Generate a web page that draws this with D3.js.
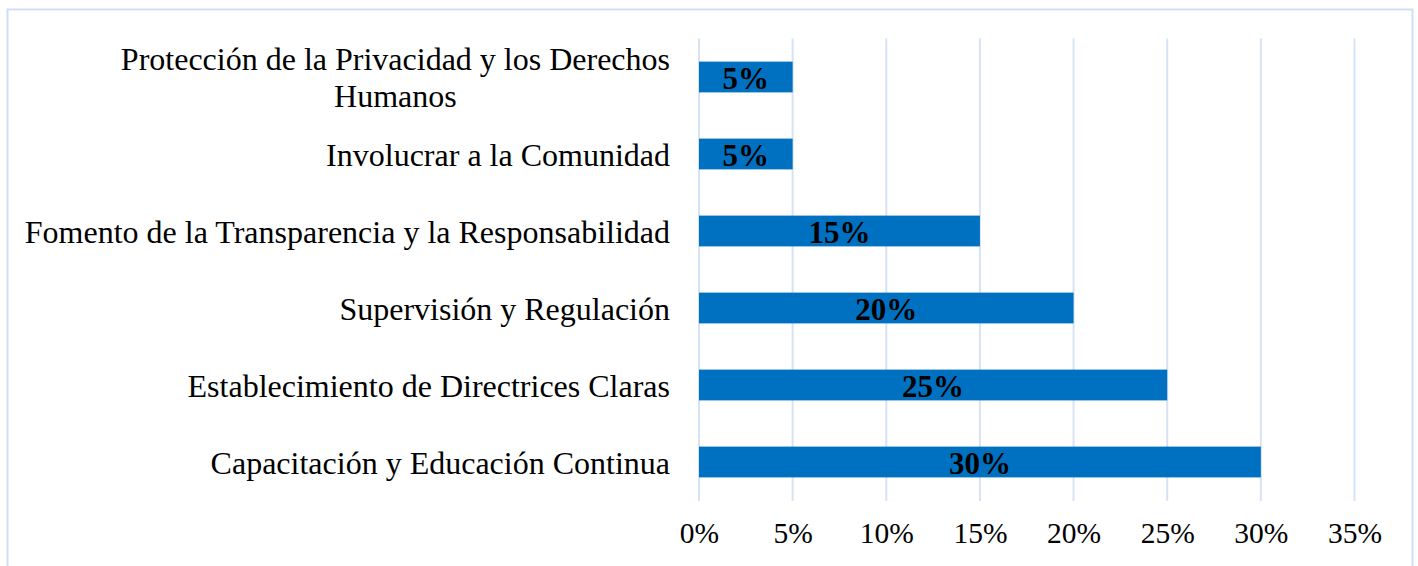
<!DOCTYPE html>
<html>
<head>
<meta charset="utf-8">
<script src="https://cdn.jsdelivr.net/npm/d3@7"></script>
<style>
  html, body { margin: 0; padding: 0; background: #fff; }
  svg { display: block; }
</style>
</head>
<body>
<svg id="chart" width="1418" height="566"></svg>
<script>
const categories = [
  ["Protección de la Privacidad y los Derechos", "Humanos"],
  ["Involucrar a la Comunidad"],
  ["Fomento de la Transparencia y la Responsabilidad"],
  ["Supervisión y Regulación"],
  ["Establecimiento de Directrices Claras"],
  ["Capacitación y Educación Continua"]
];
const values = [0.05, 0.05, 0.15, 0.20, 0.25, 0.30];
const tickValues = [0, 0.05, 0.10, 0.15, 0.20, 0.25, 0.30, 0.35];

const svg = d3.select("#chart");
const font = "'Liberation Serif', 'Times New Roman', serif";
const catSize = "32px";

// outer border
svg.append("rect")
  .attr("x", 7.5).attr("y", 9.5)
  .attr("width", 1405).attr("height", 600)
  .attr("fill", "none")
  .attr("stroke", "#cfdff3")
  .attr("stroke-width", 2);

const x = d3.scaleLinear().domain([0, 0.35]).range([699, 1354.5]);
const keys = categories.map((c, i) => i);
const y = d3.scaleBand().domain(keys).range([38.5, 500.5])
  .paddingInner(0.6).paddingOuter(0.3);

// gridlines
svg.append("g").selectAll("line").data(tickValues).join("line")
  .attr("x1", d => x(d)).attr("x2", d => x(d))
  .attr("y1", 38.5).attr("y2", 501)
  .attr("stroke", "#d5e3f5").attr("stroke-width", 2);

// x axis labels
const xAxis = d3.axisBottom(x).tickValues(tickValues)
  .tickFormat(d3.format(".0%")).tickSize(0).tickPadding(0);
const gx = svg.append("g").attr("transform", "translate(0,522)").call(xAxis);
gx.select(".domain").remove();
gx.selectAll("text")
  .attr("font-family", font).attr("font-size", "29.5px")
  .attr("fill", "#000").attr("dy", "0.71em");

// bars
svg.append("g").selectAll("rect").data(values).join("rect")
  .attr("x", x(0))
  .attr("y", (d, i) => y(i))
  .attr("width", d => x(d) - x(0))
  .attr("height", y.bandwidth())
  .attr("fill", "#0070c0");

// bar labels
svg.append("g").selectAll("text").data(values).join("text")
  .attr("x", d => (x(d) + x(0)) / 2)
  .attr("y", (d, i) => y(i) + y.bandwidth() / 2)
  .attr("dy", "0.4em")
  .attr("text-anchor", "middle")
  .attr("font-family", font).attr("font-size", "31px")
  .attr("font-weight", "bold").attr("fill", "#000")
  .text(d3.format(".0%"));

// category labels
const labelRight = 670;
const lineH = 37;
const gl = svg.append("g");
categories.forEach((lines, i) => {
  const cy = y(i) + y.bandwidth() / 2;
  const t = gl.append("text")
    .attr("font-family", font).attr("font-size", catSize).attr("fill", "#000");
  if (lines.length === 1) {
    t.attr("x", labelRight).attr("y", cy).attr("dy", "0.36em")
      .attr("text-anchor", "end").text(lines[0]);
  } else {
    const tmp = gl.append("text").attr("font-family", font).attr("font-size", catSize).text(lines[0]);
    const w = tmp.node().getComputedTextLength();
    tmp.remove();
    const cx = labelRight - w / 2;
    t.attr("text-anchor", "middle");
    lines.forEach((ln, j) => {
      t.append("tspan")
        .attr("x", cx)
        .attr("y", cy + (j - (lines.length - 1) / 2) * lineH)
        .attr("dy", "0.36em")
        .text(ln);
    });
  }
});
</script>
</body>
</html>
